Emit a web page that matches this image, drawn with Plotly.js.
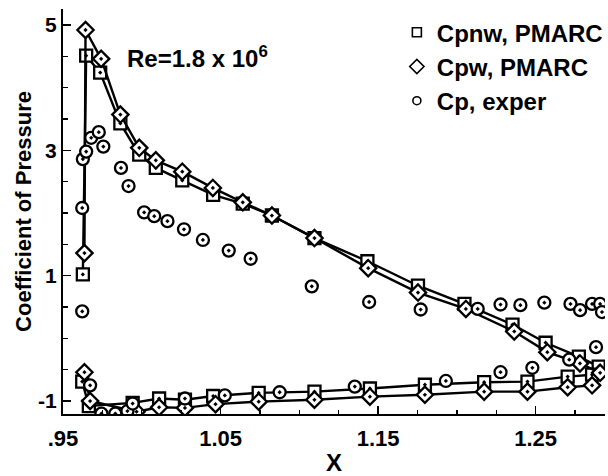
<!DOCTYPE html>
<html>
<head>
<meta charset="utf-8">
<script src="https://cdn.plot.ly/plotly-3.0.1.min.js"></script>
<style>html,body{margin:0;padding:0;background:#fff;}#chart{width:608px;height:476px;}</style>
</head>
<body>
<div id="chart"></div>
<script>
// Cpnw, PMARC (squares) - upper surface branch
const xCpnwUpper = [0.9626, 0.9647, 0.9736, 0.9864, 0.9984, 1.0089, 1.0257, 1.0453, 1.0641, 1.0826, 1.1096, 1.1432, 1.1753, 1.2048, 1.2353, 1.2563, 1.2774, 1.2900];
const yCpnwUpper = [1.02, 4.51, 4.24, 3.43, 2.93, 2.72, 2.52, 2.29, 2.15, 1.96, 1.60, 1.23, 0.84, 0.55, 0.22, -0.07, -0.29, -0.45];
// Cpnw, PMARC (squares) - lower surface branch
const xCpnwLower = [0.9622, 0.9664, 0.9942, 1.0110, 1.0274, 1.0453, 1.0742, 1.1096, 1.1448, 1.1797, 1.2173, 1.2448, 1.2703, 1.2858];
const yCpnwLower = [-0.69, -1.08, -1.03, -0.96, -0.98, -0.92, -0.87, -0.85, -0.80, -0.74, -0.70, -0.69, -0.61, -0.58];
// Cpw, PMARC (diamonds) - upper surface branch
const xCpwUpper = [0.9636, 0.9643, 0.9742, 0.9864, 0.9984, 1.0089, 1.0257, 1.0451, 1.0641, 1.0826, 1.1096, 1.1437, 1.1753, 1.2057, 1.2364, 1.2574, 1.2781, 1.2909];
const yCpwUpper = [1.36, 4.92, 4.46, 3.57, 3.04, 2.84, 2.66, 2.40, 2.17, 1.96, 1.60, 1.12, 0.73, 0.47, 0.11, -0.22, -0.40, -0.55];
// Cpw, PMARC (diamonds) - lower surface branch
const xCpwLower = [0.9636, 0.9672, 0.9967, 1.0110, 1.0274, 1.0468, 1.0742, 1.1096, 1.1448, 1.1797, 1.2173, 1.2448, 1.2703, 1.2858];
const yCpwLower = [-0.54, -1.00, -1.17, -1.10, -1.11, -1.05, -1.01, -0.98, -0.93, -0.90, -0.85, -0.85, -0.78, -0.75];
// Cp, exper (circles)
const xCpExper = [0.9622, 0.9622, 0.9626, 0.9647, 0.9679, 0.9727, 0.9756, 0.9868, 0.9916, 1.0015, 1.0079, 1.0163, 1.0268, 1.0388, 1.0552, 1.0691, 1.1079, 1.1443, 1.1770, 1.2132, 1.2277, 1.2403, 1.2555, 1.2721, 1.2782, 1.2858, 1.2909, 1.2921,
                  0.9672, 0.9744, 0.9832, 0.9909, 0.9942, 1.0274, 1.0527, 1.0875, 1.1352, 1.1930, 1.2277, 1.2479, 1.2713, 1.2883];
const yCpExper = [0.43, 2.08, 2.86, 2.98, 3.20, 3.29, 3.06, 2.72, 2.43, 2.01, 1.95, 1.87, 1.74, 1.57, 1.40, 1.27, 0.83, 0.58, 0.46, 0.47, 0.54, 0.53, 0.57, 0.55, 0.45, 0.55, 0.55, 0.42,
                  -0.75, -1.20, -1.20, -1.16, -1.04, -0.96, -0.91, -0.86, -0.77, -0.68, -0.54, -0.47, -0.34, -0.14];

const seriesNames = ['Cpnw, PMARC', 'Cpw, PMARC', 'Cp, exper'];
const xTickVals = [0.95, 1.05, 1.15, 1.25];
const xTickText = ['.95', '1.05', '1.15', '1.25'];
const yTickVals = [-1, 1, 3, 5];
const yTickText = ['-1', '1', '3', '5'];
const reLabel = 'Re=1.8 x 10<sup>6</sup>';

const FONT = 'Liberation Sans, Arial, Helvetica, sans-serif';
const lineStyle = {color: '#000', width: 2.4};
const sqMarker = {symbol: 'square-dot', size: 12, color: '#fff', line: {color: '#000', width: 2.3}};
const diMarker = {symbol: 'diamond-dot', size: 12.5, color: '#fff', line: {color: '#000', width: 2.3}};
const ciMarker = {symbol: 'circle-dot', size: 12, color: '#fff', line: {color: '#000', width: 2.3}};

const traces = [
  {x: xCpnwUpper, y: yCpnwUpper, mode: 'lines+markers', line: lineStyle, marker: sqMarker, showlegend: false, name: seriesNames[0]},
  {x: xCpnwLower, y: yCpnwLower, mode: 'lines+markers', line: lineStyle, marker: sqMarker, showlegend: false, name: seriesNames[0]},
  {x: xCpwUpper, y: yCpwUpper, mode: 'lines+markers', line: lineStyle, marker: diMarker, showlegend: false, name: seriesNames[1]},
  {x: xCpwLower, y: yCpwLower, mode: 'lines+markers', line: lineStyle, marker: diMarker, showlegend: false, name: seriesNames[1]},
  {x: xCpExper, y: yCpExper, mode: 'markers', marker: ciMarker, showlegend: false, name: seriesNames[2]},
  // legend entries (marker only, as in the reference key)
  {x: [null], y: [null], mode: 'markers', name: seriesNames[0], legendgroup: 'a', marker: {symbol: 'square-open', size: 9, color: '#000', line: {width: 1.6}}},
  {x: [null], y: [null], mode: 'markers', name: seriesNames[1], legendgroup: 'b', marker: {symbol: 'diamond-open', size: 11, color: '#000', line: {width: 1.6}}},
  {x: [null], y: [null], mode: 'markers', name: seriesNames[2], legendgroup: 'c', marker: {symbol: 'circle-open', size: 8, color: '#000', line: {width: 1.6}}}
];

const layout = {
  width: 608, height: 476,
  margin: {l: 63, r: 0, t: 9, b: 62, pad: 0},
  paper_bgcolor: '#fff', plot_bgcolor: '#fff',
  font: {family: FONT, color: '#000'},
  showlegend: true,
  legend: {x: 0.616, xanchor: 'left', y: 0.997, yanchor: 'top', bgcolor: 'rgba(0,0,0,0)',
           font: {family: FONT, size: 24, weight: 'bold', color: '#000'},
           traceorder: 'grouped', tracegroupgap: 0, itemsizing: 'trace'},
  xaxis: {
    range: [0.95, 1.294], showgrid: false, zeroline: false,
    showline: true, linecolor: '#000', linewidth: 2, mirror: false,
    ticks: 'inside', ticklen: 8, tickwidth: 1.5, tickcolor: '#000',
    tickmode: 'array', tickvals: xTickVals, ticktext: xTickText,
    ticklabelstandoff: 4,
    tickfont: {family: FONT, size: 22, weight: 'bold', color: '#000'},
    minor: {ticks: 'inside', tickmode: 'linear', tick0: 0.95, dtick: 0.025, ticklen: 4, tickwidth: 1.2, tickcolor: '#000', showgrid: false},
    title: {text: 'X', font: {family: FONT, size: 24, weight: 'bold', color: '#000'}, standoff: 6}
  },
  yaxis: {
    range: [-1.207, 5.255], showgrid: false, zeroline: false,
    showline: true, linecolor: '#000', linewidth: 2, mirror: false,
    ticks: 'inside', ticklen: 8, tickwidth: 1.5, tickcolor: '#000',
    tickmode: 'array', tickvals: yTickVals, ticktext: yTickText,
    ticklabelstandoff: 0,
    tickfont: {family: FONT, size: 21, weight: 'bold', color: '#000'},
    minor: {ticks: 'inside', tickmode: 'linear', tick0: -1, dtick: 0.5, ticklen: 5, tickwidth: 1.2, tickcolor: '#000', showgrid: false},
    title: {text: 'Coefficient of Pressure', font: {family: FONT, size: 22, weight: 'bold', color: '#000'}, standoff: 0}
  },
  annotations: [
    {text: reLabel, xref: 'paper', yref: 'paper', x: 0.1138, y: 0.882, xanchor: 'left', yanchor: 'middle',
     showarrow: false, font: {family: FONT, size: 24, weight: 'bold', color: '#000'}}
  ]
};

Plotly.newPlot('chart', traces, layout, {displayModeBar: false, staticPlot: true});
</script>
</body>
</html>
